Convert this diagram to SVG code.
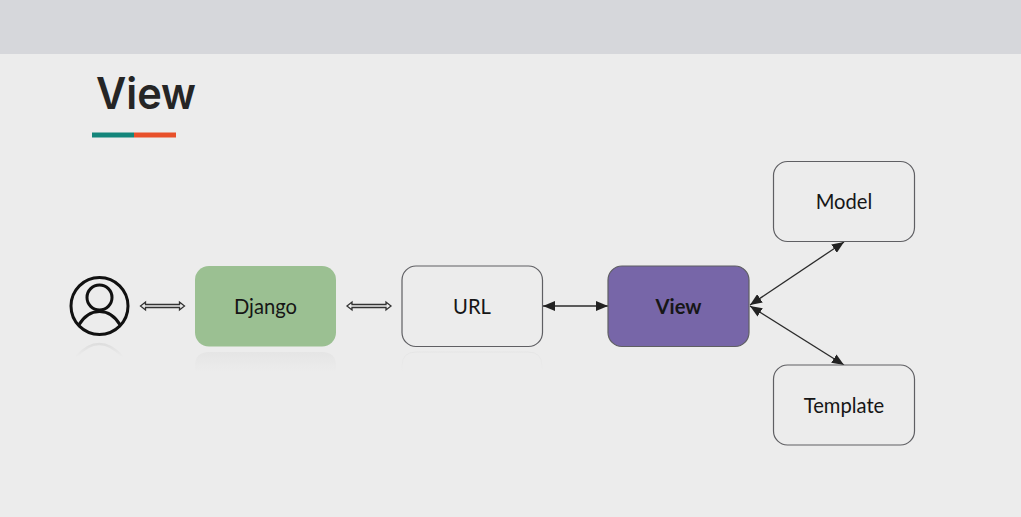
<svg xmlns="http://www.w3.org/2000/svg" width="1021" height="517" viewBox="0 0 1021 517">
<style>
.box{stroke:#5f5f63;stroke-width:1.2}
.lbl{font-family:Lato,"Liberation Sans",sans-serif;font-size:20.2px;fill:#161616;text-anchor:middle}
.c{stroke:#2b2b2b;stroke-width:1.3;fill:none}
.dbl{fill:#ececec;stroke:#333;stroke-width:1.3}
</style>
<defs>
<marker id="a" viewBox="0 0 12 10" refX="12" refY="5" markerWidth="12" markerHeight="10" markerUnits="userSpaceOnUse" orient="auto-start-reverse"><path d="M0 0L12 5L0 10Z" fill="#222"/></marker>
<linearGradient id="f" x1="0" y1="0" x2="0" y2="1"><stop offset="0" stop-color="#e5e5e5"/><stop offset="1" stop-color="#ececec"/></linearGradient>
<linearGradient id="g" x1="0" y1="0" x2="0" y2="1"><stop offset="0" stop-color="#dedede"/><stop offset="1" stop-color="#ececec"/></linearGradient>
</defs>
<rect width="1021" height="517" fill="#ececec"/>
<rect width="1021" height="54" fill="#d6d7db"/>
<text x="96" y="109" font-family="Inter,'Open Sans','Liberation Sans',sans-serif" font-weight="600" font-size="44" fill="#252525" textLength="100" lengthAdjust="spacingAndGlyphs">View</text>
<rect x="92" y="132.500" width="42" height="5" fill="#13857a"/>
<rect x="134" y="132.500" width="42" height="5" fill="#e8502a"/>
<g id="connectors">
<path class="dbl" d="M140.500 306l5-4v2.500h34v-2.500l5 4l-5 4v-2.500h-34v2.500z"/>
<path class="dbl" d="M347 306l5-4v2.500h34v-2.500l5 4l-5 4v-2.500h-34v2.500z"/>
<path class="c" d="M543 306H608" marker-start="url(#a)" marker-end="url(#a)"/>
<path class="c" d="M750 305L844 242" marker-start="url(#a)" marker-end="url(#a)"/>
<path class="c" d="M750 306L844 365" marker-start="url(#a)" marker-end="url(#a)"/>
</g>
<g id="user">
<circle cx="99.500" cy="306" r="28.500" fill="none" stroke="#111" stroke-width="3"/>
<circle cx="99.500" cy="297.500" r="12.500" fill="none" stroke="#111" stroke-width="3"/>
<path d="M78.500 325.500C84 316 91 311.500 99.500 311.500S115 316 120.500 325.500" fill="none" stroke="#111" stroke-width="3"/>
<path d="M76 357Q99 331 123 357" fill="none" stroke="url(#g)" stroke-width="2.500"/>
</g>
<g id="django">
<path d="M195 372V366Q195 352 209 352H322Q336 352 336 366V372Z" fill="url(#f)"/>
<rect x="195" y="266" width="141" height="80.500" rx="14" fill="#9bc092"/>
<text class="lbl" x="265.500" y="314">Django</text>
</g>
<g id="url">
<path d="M402 372V366Q402 352 416 352H528Q542 352 542 366V372" fill="none" stroke="url(#f)"/>
<rect class="box" x="402" y="266" width="140.500" height="80.500" rx="14" fill="#ececec"/>
<text class="lbl" x="472" y="314">URL</text>
</g>
<g id="view">
<rect class="box" x="608" y="266" width="141" height="80.500" rx="14" fill="#7766a8"/>
<text class="lbl" x="678.500" y="314" font-weight="700">View</text>
</g>
<g id="model">
<rect class="box" x="773.500" y="161.500" width="141" height="80" rx="14" fill="#ececec"/>
<text class="lbl" x="844" y="209">Model</text>
</g>
<g id="template">
<rect class="box" x="773.500" y="365" width="141" height="80" rx="14" fill="#ececec"/>
<text class="lbl" x="844" y="413">Template</text>
</g>
</svg>
